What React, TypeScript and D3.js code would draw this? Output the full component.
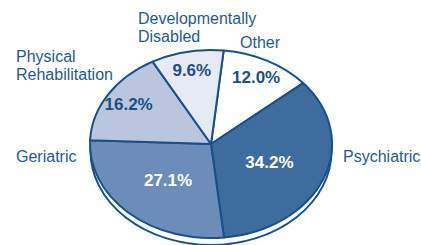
import React, { useRef, useEffect } from 'react';
import * as d3 from 'd3';

// clockwise from the top
const categories = ['Other', 'Psychiatric', 'Geriatric', 'Physical Rehabilitation', 'Developmentally Disabled'];
const shares = [12.0, 34.2, 27.1, 16.2, 9.6];
const fills = ['#ffffff', '#3f6c9f', '#6c8cb9', '#b9c6de', '#e6eaf4'];
const pctColors = ['#1b4f86', '#ffffff', '#ffffff', '#1b4f86', '#1b4f86'];

// where the category names sit (annotation layout, not data)
const nameLayout = [
  { lines: ['Other'], x: 240, y: 48, anchor: 'start' },
  { lines: ['Psychiatric'], x: 343, y: 162, anchor: 'start' },
  { lines: ['Geriatric'], x: 16, y: 162, anchor: 'start' },
  { lines: ['Physical', 'Rehabilitation'], x: 16, y: 62, anchor: 'start' },
  { lines: ['Developmentally', 'Disabled'], x: 138, y: 24, anchor: 'start' },
];

const W = 421;
const H = 245;
const cx = 211;
const cy = 144;
const rx = 121;
const ry = 94;
const depth = 7;
const stroke = '#17508a';
const textColor = '#1f5a93';
const font = '"Liberation Sans", Arial, Helvetica, sans-serif';

const App: React.FC = () => {
  const svgRef = useRef<SVGSVGElement | null>(null);

  useEffect(() => {
    const svg = d3.select(svgRef.current!);
    svg.selectAll('*').remove();

    const data = categories.map((c, i) => ({ name: c, value: shares[i], i }));
    const start = (6 * Math.PI) / 180;
    const pie = d3.pie<any>()
      .sort(null)
      .value((d) => d.value)
      .startAngle(start)
      .endAngle(start + 2 * Math.PI);
    const arcs = pie(data);

    const arc = d3.arc<d3.PieArcDatum<any>>().innerRadius(0).outerRadius(rx);
    const k = ry / rx;

    // side of the disc
    svg.append('ellipse')
      .attr('cx', cx)
      .attr('cy', cy + depth)
      .attr('rx', rx - 0.5)
      .attr('ry', ry)
      .attr('fill', '#fff')
      .attr('stroke', stroke)
      .attr('stroke-width', 2);

    const g = svg.append('g')
      .attr('transform', `translate(${cx},${cy}) scale(1,${k})`);

    g.selectAll('path')
      .data(arcs)
      .enter()
      .append('path')
      .attr('d', arc as any)
      .attr('fill', (d) => fills[d.data.i])
      .attr('stroke', stroke)
      .attr('stroke-width', 2)
      .attr('stroke-linejoin', 'round')
      .attr('vector-effect', 'non-scaling-stroke');

    const labelPos = (d: d3.PieArcDatum<any>) => {
      const a = (d.startAngle + d.endAngle) / 2;
      const r = d.data.value > 20 ? 0.52 : 0.8;
      return [cx + rx * r * Math.sin(a), cy - ry * r * Math.cos(a) + 6];
    };

    // percentages inside the slices
    svg.selectAll('text.pct')
      .data(arcs)
      .enter()
      .append('text')
      .attr('class', 'pct')
      .attr('x', (d) => labelPos(d)[0])
      .attr('y', (d) => labelPos(d)[1])
      .attr('text-anchor', 'middle')
      .attr('font-family', font)
      .attr('font-size', 17)
      .attr('font-weight', 'bold')
      .attr('fill', (d) => pctColors[d.data.i])
      .text((d) => d.data.value.toFixed(1) + '%');

    // category names
    const names = svg.selectAll('text.name')
      .data(nameLayout)
      .enter()
      .append('text')
      .attr('class', 'name')
      .attr('x', (d) => d.x)
      .attr('y', (d) => d.y)
      .attr('text-anchor', (d) => d.anchor)
      .attr('font-family', font)
      .attr('font-size', 16)
      .attr('fill', textColor);

    names.selectAll('tspan')
      .data((d) => d.lines.map((l) => ({ l, x: d.x })))
      .enter()
      .append('tspan')
      .attr('x', (d) => d.x)
      .attr('dy', (d, i) => (i === 0 ? 0 : 18))
      .text((d) => d.l);
  }, []);

  return (
    <svg
      ref={svgRef}
      width={W}
      height={H}
      style={{ position: 'absolute', left: 0, top: 0, display: 'block', background: '#fff' }}
    />
  );
};

export default App;
